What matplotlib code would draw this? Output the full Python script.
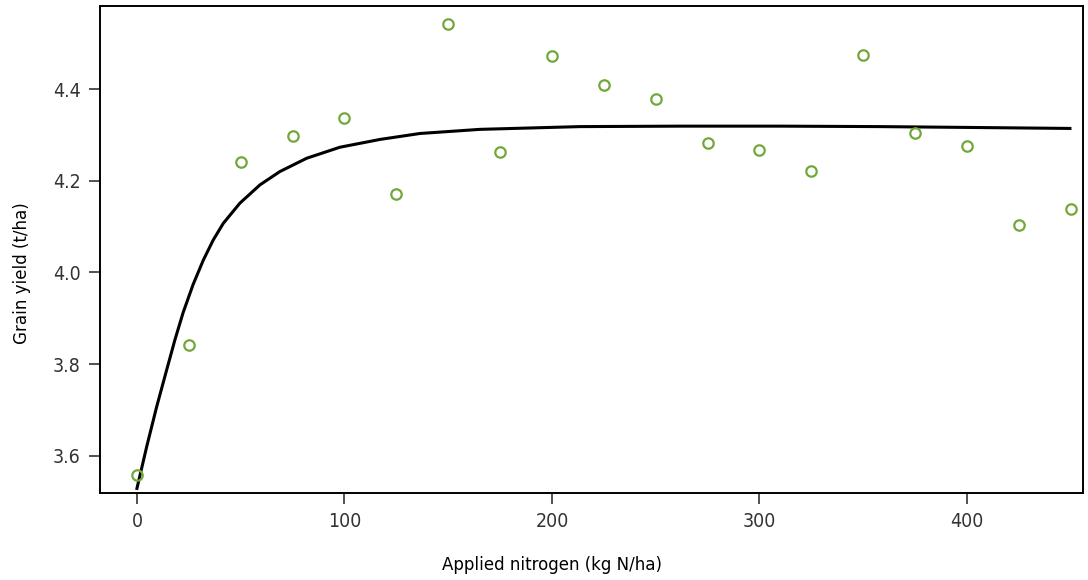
import matplotlib
matplotlib.use('Agg')
import matplotlib.pyplot as plt

# Observed grain yield at each nitrogen rate
nitrogen = [0, 25, 50, 75, 100, 125, 150, 175, 200, 225, 250,
            275, 300, 325, 350, 375, 400, 425, 450]
yield_obs = [3.559, 3.842, 4.241, 4.297, 4.337, 4.171, 4.542, 4.263, 4.472, 4.409,
             4.378, 4.282, 4.267, 4.221, 4.474, 4.304, 4.276, 4.103, 4.138]

# Fitted response curve
curve_x = [0, 4.7, 9.5, 14.3, 18.3, 22.3, 27.1, 32.0, 36.8, 41.6, 49.6, 59.3,
           68.9, 81.8, 97.8, 117.1, 136.4, 165.3, 213.5, 261.7, 310, 358, 405, 449.6]
curve_y = [3.529, 3.620, 3.707, 3.787, 3.853, 3.913, 3.974, 4.027, 4.071, 4.107, 4.151, 4.191,
           4.220, 4.249, 4.273, 4.290, 4.303, 4.312, 4.318, 4.319, 4.319, 4.318, 4.316, 4.314]

plt.rcParams['font.family'] = ['DejaVu Sans']
plt.rcParams['font.stretch'] = 'condensed'

fig = plt.figure(figsize=(10.88, 5.8), dpi=100)
ax = fig.add_axes([100 / 1088, 87 / 580, 983 / 1088, 487 / 580])

ax.plot(curve_x, curve_y, color='black', linewidth=2.2, zorder=2)
ax.plot(nitrogen, yield_obs, linestyle='none', marker='o', markersize=7.5,
        markerfacecolor='none', markeredgecolor='#72a83a', markeredgewidth=1.6, zorder=3)

ax.set_xlim(-17.8, 455.9)
ax.set_ylim(3.519, 4.581)
ax.set_xticks([0, 100, 200, 300, 400])
ax.set_yticks([3.6, 3.8, 4.0, 4.2, 4.4])
ax.set_yticklabels(['3.6', '3.8', '4.0', '4.2', '4.4'])

for s in ax.spines.values():
    s.set_linewidth(1.4)
ax.tick_params(direction='out', length=8, width=1.2, labelsize=14, pad=6, colors='#333333')

ax.set_xlabel('Applied nitrogen (kg N/ha)', fontsize=13.3, va='center')
ax.set_ylabel('Grain yield (t/ha)', fontsize=13.3, va='center')
ax.xaxis.set_label_coords(0.46, -0.148)
ax.yaxis.set_label_coords(-0.079, 0.451)

fig.savefig('out.png', dpi=100)
